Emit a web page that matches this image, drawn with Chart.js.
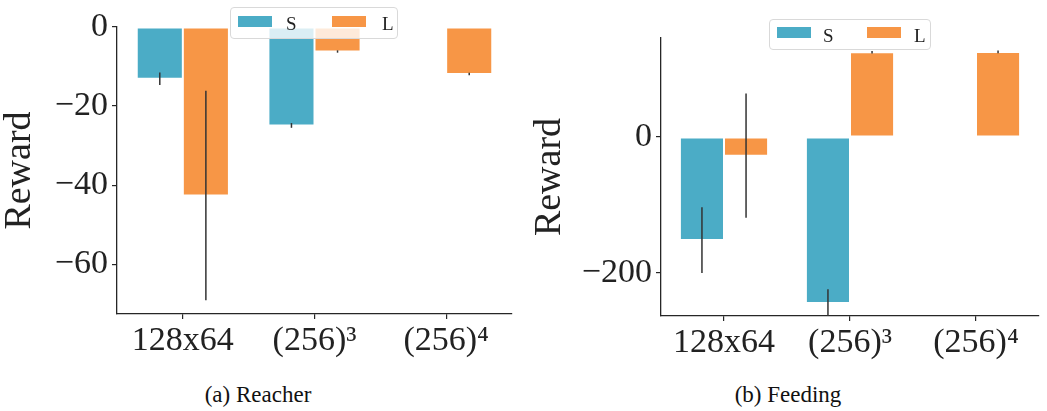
<!DOCTYPE html>
<html>
<head>
<meta charset="utf-8">
<script src="https://cdn.jsdelivr.net/npm/chart.js@4"></script>
<style>
  html, body { margin:0; padding:0; background:#fff; }
  body { width:1047px; height:411px; position:relative; overflow:hidden; font-family:"Liberation Serif", serif; }
  .box { position:absolute; }
  .legend { position:absolute; border:1px solid #d9d9d9; border-radius:4px; background:rgba(255,255,255,0.8); box-sizing:border-box; }
  .patch { position:absolute; height:11px; width:34px; }
  .ltxt { position:absolute; font-size:19px; line-height:19px; color:#222; }
  .cap { position:absolute; font-size:23px; color:#111; transform:translateX(-50%); white-space:nowrap; }
</style>
</head>
<body>
<div class="box" id="wrapA" style="left:0;top:0;width:522px;height:370px;"><canvas id="cA"></canvas></div>
<div class="box" id="wrapB" style="left:527px;top:0;width:520px;height:370px;"><canvas id="cB"></canvas></div>

<div class="legend" style="left:230px;top:7px;width:168px;height:32px;">
  <div class="patch" style="left:7px;top:8px;background:#4BACC6;"></div>
  <div class="ltxt" style="left:55px;top:6px;">S</div>
  <div class="patch" style="left:101px;top:8px;background:#F79646;"></div>
  <div class="ltxt" style="left:151px;top:6px;">L</div>
</div>
<div class="legend" style="left:769px;top:19px;width:162px;height:31px;">
  <div class="patch" style="left:7px;top:7px;background:#4BACC6;"></div>
  <div class="ltxt" style="left:53px;top:6px;">S</div>
  <div class="patch" style="left:97px;top:7px;background:#F79646;"></div>
  <div class="ltxt" style="left:144px;top:6px;">L</div>
</div>

<div class="cap" style="left:258px;top:382px;">(a) Reacher</div>
<div class="cap" style="left:788px;top:382px;">(b) Feeding</div>

<script>
// ---- data ----
const categories = ['128x64', '(256)\u00B3', '(256)\u2074'];
const seriesNames = ['S', 'L'];

const reacherS    = [-13.1, -24.9, null];
const reacherSErr = [1.6, 0.6, null];
const reacherL    = [-42.6, -6.2, -11.9];
const reacherLErr = [26.5, 0.3, 0.3];

const feedingS    = [-152.0, -244.8, null];
const feedingSErr = [48.5, 20.3, null];
const feedingL    = [-27.5, 125.0, 125.5];
const feedingLErr = [91.6, 2.0, 2.0];

const reacherTicks = [-60, -40, -20, 0];
const feedingTicks = [-200, 0];
const reacherRange = [-72.6, 0];
const feedingRange = [-264, 146];

// ---- style ----
const colS = '#4BACC6';
const colL = '#F79646';
const axisCol = '#262626';
const serif = '"Liberation Serif", serif';

const errorBarPlugin = {
  id: 'errbars',
  afterDatasetsDraw(chart) {
    const ctx = chart.ctx, ys = chart.scales.y, area = chart.chartArea;
    ctx.save();
    ctx.beginPath();
    ctx.rect(area.left, area.top - 2, area.right - area.left, area.bottom - area.top + 2);
    ctx.clip();
    ctx.strokeStyle = '#333';
    ctx.lineWidth = 1.5;
    chart.data.datasets.forEach((ds, di) => {
      const meta = chart.getDatasetMeta(di);
      ds.data.forEach((v, i) => {
        const e = ds.err[i];
        if (v == null || e == null) return;
        const x = meta.data[i].x;
        ctx.beginPath();
        ctx.moveTo(x, ys.getPixelForValue(v - e));
        ctx.lineTo(x, ys.getPixelForValue(v + e));
        ctx.stroke();
      });
    });
    ctx.restore();
  }
};

function minus(v) { return v < 0 ? '\u2212' + Math.abs(v) : String(v); }

function makeChart(id, sVals, sErr, lVals, lErr, ticks, range, yWidth, titlePad, padTop, padRight, xHeight) {
  return new Chart(document.getElementById(id), {
    type: 'bar',
    data: {
      labels: categories,
      datasets: [
        { label: seriesNames[0], data: sVals, err: sErr, backgroundColor: colS,
          borderColor: 'rgba(255,255,255,0.55)', borderWidth: 1, borderSkipped: false },
        { label: seriesNames[1], data: lVals, err: lErr, backgroundColor: colL,
          borderColor: 'rgba(255,255,255,0.55)', borderWidth: 1, borderSkipped: false }
      ]
    },
    options: {
      responsive: true,
      maintainAspectRatio: false,
      animation: false,
      devicePixelRatio: 1,
      layout: { padding: { top: padTop, right: padRight, left: 0, bottom: 0 } },
      plugins: { legend: { display: false }, tooltip: { enabled: false } },
      datasets: { bar: { categoryPercentage: 0.7, barPercentage: 1.0 } },
      scales: {
        x: {
          grid: { display: true, offset: false, drawOnChartArea: false, drawTicks: true, tickLength: 5, color: axisCol, lineWidth: 1.2 },
          border: { display: true, color: axisCol, width: 1.3 },
          ticks: { color: '#222', font: { family: serif, size: 34 }, padding: 2, maxRotation: 0, autoSkip: false },
          afterFit(s) { s.height = xHeight; }
        },
        y: {
          min: range[0], max: range[1],
          grid: { display: true, drawOnChartArea: false, drawTicks: true, tickLength: 5, color: axisCol, lineWidth: 1.2 },
          border: { display: true, color: axisCol, width: 1.3 },
          ticks: { color: '#222', font: { family: serif, size: 34 }, padding: 4, callback: v => minus(v) },
          afterBuildTicks(s) { s.ticks = ticks.map(v => ({ value: v })); },
          afterFit(s) { s.width = yWidth; },
          title: { display: true, text: 'Reward', color: '#222', font: { family: serif, size: 38, lineHeight: 1 }, padding: { top: titlePad, bottom: 0 } }
        }
      }
    },
    plugins: [errorBarPlugin]
  });
}

makeChart('cA', reacherS, reacherSErr, reacherL, reacherLErr, reacherTicks, reacherRange, 117, 1, 27, 10, 56);
makeChart('cB', feedingS, feedingSErr, feedingL, feedingLErr, feedingTicks, feedingRange, 134, 4, 38, 8, 54);
</script>
</body>
</html>
